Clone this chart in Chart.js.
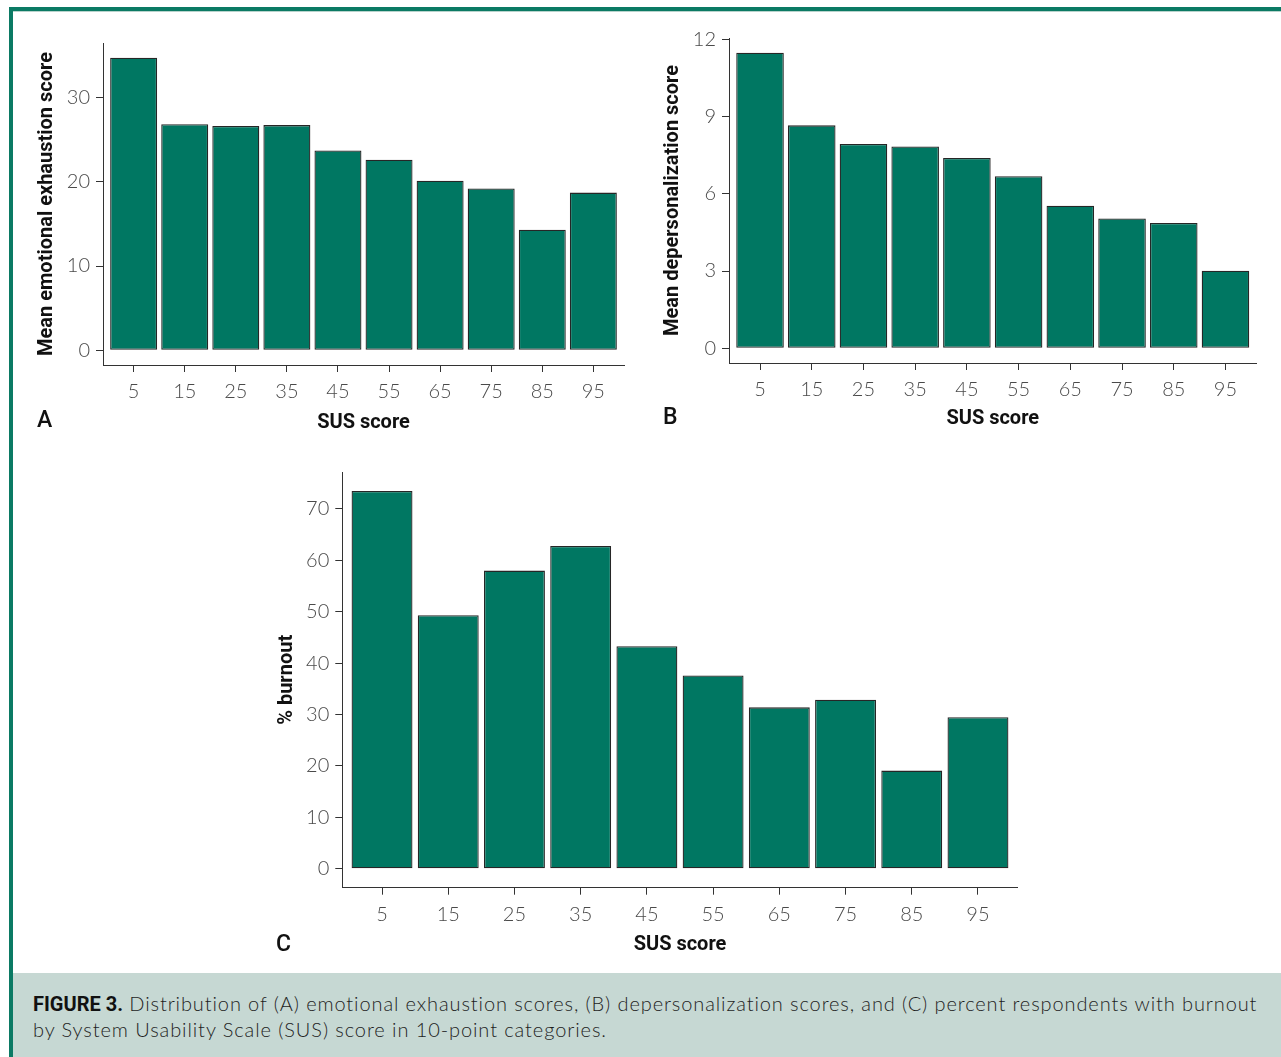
<!DOCTYPE html>
<html>
<head>
<meta charset="utf-8">
<script src="https://cdn.jsdelivr.net/npm/chart.js@4.4.0/dist/chart.umd.min.js"></script>
<style>
  html, body { margin: 0; padding: 0; background: #fff; }
  body { width: 1281px; height: 1057px; position: relative; overflow: hidden; font-family: Lato, sans-serif; }
  .frame-top { position: absolute; left: 9px; top: 7px; width: 1272px; height: 4px; background: #0b7a64; }
  .frame-line { position: absolute; left: 13px; top: 11px; width: 1268px; height: 1px; background: #b8d3cc; }
  .frame-left { position: absolute; left: 9px; top: 7px; width: 4px; height: 1050px; background: #0b7a64; }
  canvas { position: absolute; }
  .letter { position: absolute; font-family: Roboto, sans-serif; font-weight: 500; font-size: 23px; line-height: 1; color: #111; }
  .caption { position: absolute; left: 13px; top: 973px; width: 1268px; height: 84px; background: #c6d8d3; }
  .caption div { position: absolute; left: 20px; white-space: nowrap; font-family: Lato, sans-serif; font-weight: 300; font-size: 20px; line-height: 24px; color: #1e1e1e; }
  .caption b { font-family: Roboto, sans-serif; font-weight: 700; color: #111; letter-spacing: 0; }
</style>
</head>
<body>
<div class="frame-top"></div>
<div class="frame-line"></div>
<div class="frame-left"></div>

<canvas id="chartA" width="620" height="415" style="left:20px;top:25px"></canvas>
<canvas id="chartB" width="626" height="420" style="left:655px;top:20px"></canvas>
<canvas id="chartC" width="770" height="506" style="left:265px;top:454px"></canvas>

<div class="letter" style="left:37px;top:408px">A</div>
<div class="letter" style="left:663px;top:405px">B</div>
<div class="letter" style="left:276px;top:932px">C</div>

<div class="caption">
  <div style="top:18px" data-w="1233"><b>FIGURE 3.</b> Distribution of (A) emotional exhaustion scores, (B) depersonalization scores, and (C) percent respondents with burnout</div>
  <div style="top:44px" data-w="573">by System Usability Scale (SUS) score in 10-point categories.</div>
</div>

<script>
// SUS score categories (midpoints of 10-point bins)
const susScores = [5, 15, 25, 35, 45, 55, 65, 75, 85, 95];

// values
const exhaustionMeans = [34.7, 26.8, 26.6, 26.7, 23.7, 22.6, 20.1, 19.2, 14.3, 18.7];
const depersonalizationMeans = [11.48, 8.66, 7.94, 7.84, 7.39, 6.68, 5.54, 5.04, 4.87, 3.01];
const burnoutPct = [73.5, 49.3, 58.0, 62.8, 43.3, 37.6, 31.4, 32.9, 19.1, 29.5];

// y tick labels
const ticksA = [0, 10, 20, 30];
const ticksB = [0, 3, 6, 9, 12];
const ticksC = [0, 10, 20, 30, 40, 50, 60, 70];

const barFill = '#007762';
const barEdge = '#262626';
const axisCol = '#333333';
const tickCol = '#4a4a4a';
const tickFont = { family: 'Lato', size: 20, weight: '300' };
const titleFont = { family: 'Roboto', size: 20, weight: 'bold' };

// stretch caption lines to the width they take in the original
document.querySelectorAll('.caption div').forEach((el) => {
  const want = +el.dataset.w;
  const chars = el.textContent.length - 1;
  const extra = (want - el.getBoundingClientRect().width) / chars;
  el.style.letterSpacing = extra.toFixed(3) + 'px';
});

function drawPanel(id, values, yTicks, yTitle, g) {
  const top = Math.max(...values);
  return new Chart(document.getElementById(id), {
    type: 'bar',
    data: {
      datasets: [{
        data: susScores.map((s, i) => ({ x: s, y: values[i] })),
        backgroundColor: barFill,
        borderColor: barEdge,
        borderWidth: 1.3,
        borderSkipped: false,
        barPercentage: 0.92,
        categoryPercentage: 1,
      }],
    },
    options: {
      responsive: false,
      animation: false,
      events: [],
      layout: { padding: { top: 18, right: g.right, left: 0, bottom: 0 } },
      plugins: { legend: { display: false }, tooltip: { enabled: false } },
      scales: {
        x: {
          type: 'linear',
          min: -1,
          max: 101,
          offset: false,
          afterBuildTicks: (ax) => { ax.ticks = susScores.map((v) => ({ value: v })); },
          afterFit: (ax) => { ax.height = g.xh; },
          grid: { offset: false, drawOnChartArea: false, drawTicks: true, tickLength: 7, color: axisCol },
          border: { display: true, color: axisCol, width: 1 },
          ticks: { font: tickFont, color: tickCol, padding: 8, maxRotation: 0, autoSkip: false, callback: (v) => String(v) },
          title: { display: true, text: 'SUS score', font: titleFont, color: '#111', padding: { top: 0, bottom: g.xtp } },
        },
        y: {
          min: -0.05 * top,
          max: 1.05 * top,
          afterBuildTicks: (ax) => { ax.ticks = yTicks.map((v) => ({ value: v })); },
          afterFit: (ax) => { ax.width = g.yw; },
          grid: { drawOnChartArea: false, drawTicks: true, tickLength: 7, color: axisCol },
          border: { display: true, color: axisCol, width: 1 },
          ticks: { font: tickFont, color: tickCol, padding: 6, callback: (v) => String(v) },
          title: { display: true, text: yTitle, font: titleFont, color: '#111', padding: { top: g.ytp, bottom: 0 } },
        },
      },
    },
  });
}

drawPanel('chartA', exhaustionMeans, ticksA, 'Mean emotional exhaustion score',
  { right: 16, yw: 83, xh: 75, xtp: 5.5, ytp: 15 });
drawPanel('chartB', depersonalizationMeans, ticksB, 'Mean depersonalization score',
  { right: 24.5, yw: 74, xh: 77, xtp: 9, ytp: 6 });
drawPanel('chartC', burnoutPct, ticksC, '% burnout',
  { right: 17.3, yw: 77.3, xh: 72.3, xtp: 3, ytp: 10 });
</script>
</body>
</html>
